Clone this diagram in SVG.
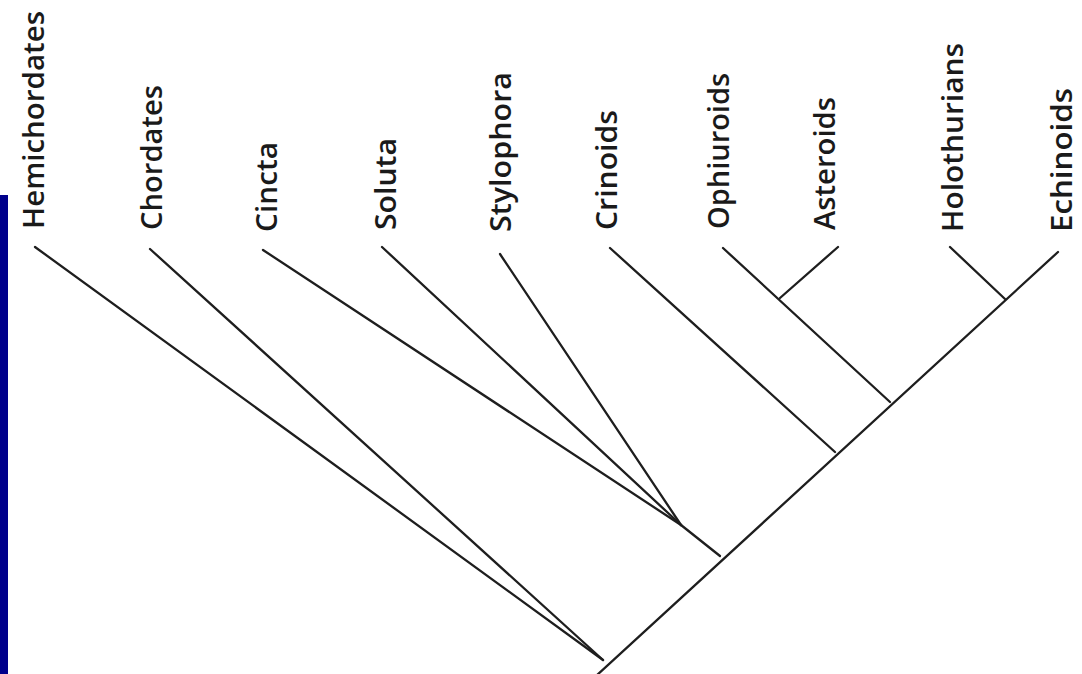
<svg xmlns="http://www.w3.org/2000/svg" width="1082" height="674" viewBox="0 0 1082 674">
<style>
.lbl{font-family:"Open Sans","Liberation Sans",sans-serif;font-size:28px;font-weight:600;fill:#1a1a1a;}
.br{stroke:#1e1e1e;stroke-width:2.3;fill:none;stroke-linecap:round;}
</style>
<rect x="0" y="0" width="1082" height="674" fill="#ffffff"/>
<rect id="bar" x="0" y="195" width="8" height="479" fill="#00008b"/>
<g id="labels">
<g id="n-hemichordates"><text class="lbl" transform="translate(44,229) rotate(-90)" textLength="218" lengthAdjust="spacingAndGlyphs">Hemichordates</text></g>
<g id="n-chordates"><text class="lbl" transform="translate(162,230) rotate(-90)" textLength="145" lengthAdjust="spacingAndGlyphs">Chordates</text></g>
<g id="n-cincta"><text class="lbl" transform="translate(277,232) rotate(-90)" textLength="90" lengthAdjust="spacingAndGlyphs">Cincta</text></g>
<g id="n-soluta"><text class="lbl" transform="translate(396,230) rotate(-90)" textLength="92" lengthAdjust="spacingAndGlyphs">Soluta</text></g>
<g id="n-stylophora"><text class="lbl" transform="translate(511,232) rotate(-90)" textLength="160" lengthAdjust="spacingAndGlyphs">Stylophora</text></g>
<g id="n-crinoids"><text class="lbl" transform="translate(617,230) rotate(-90)" textLength="120" lengthAdjust="spacingAndGlyphs">Crinoids</text></g>
<g id="n-ophiuroids"><text class="lbl" transform="translate(729,229) rotate(-90)" textLength="156" lengthAdjust="spacingAndGlyphs">Ophiuroids</text></g>
<g id="n-asteroids"><text class="lbl" transform="translate(835,230) rotate(-90)" textLength="133" lengthAdjust="spacingAndGlyphs">Asteroids</text></g>
<g id="n-holothurians"><text class="lbl" transform="translate(963,232) rotate(-90)" textLength="189" lengthAdjust="spacingAndGlyphs">Holothurians</text></g>
<g id="n-echinoids"><text class="lbl" transform="translate(1072,232) rotate(-90)" textLength="144" lengthAdjust="spacingAndGlyphs">Echinoids</text></g>
</g>
<g id="connectors">
<line class="br" x1="596" y1="676" x2="1058" y2="252"/>
<line class="br" x1="35" y1="247" x2="603" y2="660"/>
<line class="br" x1="150" y1="249" x2="603" y2="660"/>
<line class="br" x1="263" y1="250" x2="681" y2="525"/>
<line class="br" x1="382" y1="247" x2="681" y2="525"/>
<line class="br" x1="500" y1="254" x2="681" y2="525"/>
<line class="br" x1="681" y1="525" x2="720" y2="556"/>
<line class="br" x1="610" y1="248" x2="835" y2="452"/>
<line class="br" x1="723" y1="248" x2="890" y2="402"/>
<line class="br" x1="838" y1="247" x2="780" y2="298"/>
<line class="br" x1="950" y1="247" x2="1005" y2="299"/>
</g>
</svg>
